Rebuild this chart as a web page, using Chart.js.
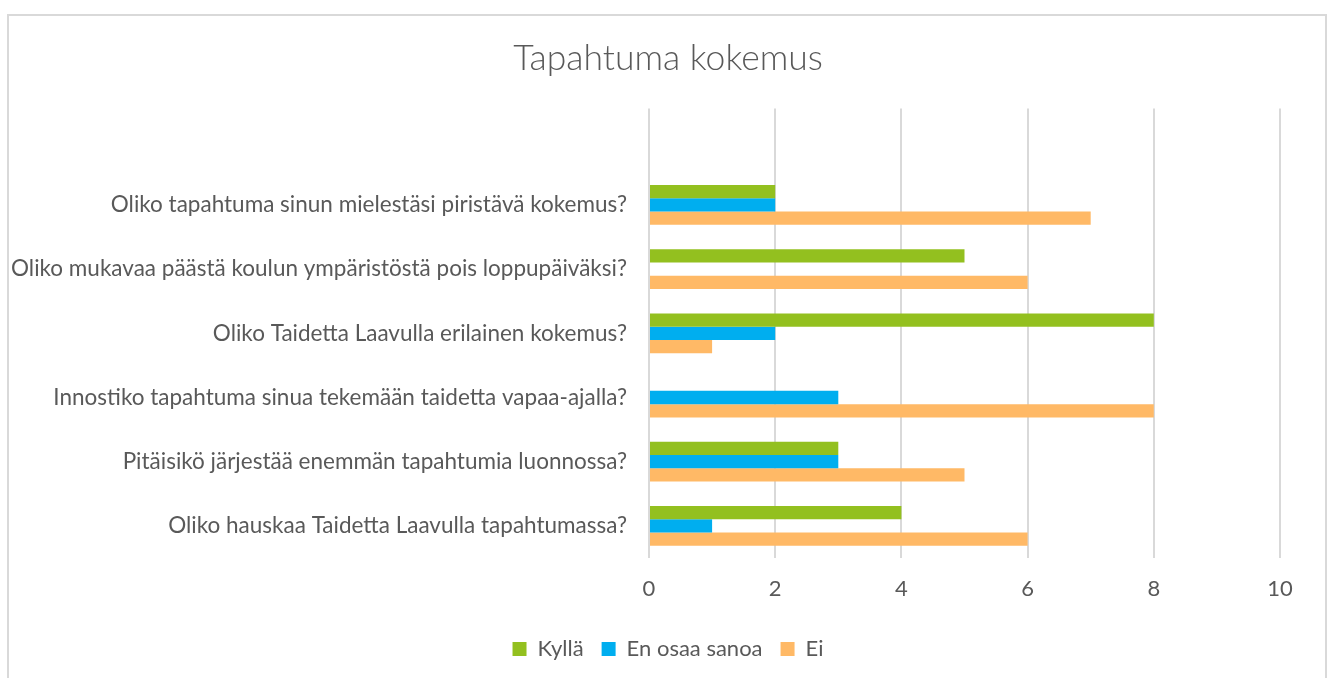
<!DOCTYPE html>
<html>
<head>
<meta charset="utf-8">
<script src="https://cdn.jsdelivr.net/npm/chart.js@4"></script>
<style>
    html, body { margin: 0; padding: 0; background: #fff; }
    #frame {
        position: absolute; left: 7px; top: 14px;
        width: 1320px; height: 700px;
        border: 2px solid #d9d9d9; box-sizing: border-box;
    }
    #wrap { position: absolute; left: 0; top: 0; width: 1334px; height: 678px; }
</style>
</head>
<body>
<div id="frame"></div>
<div id="wrap"><canvas id="chart"></canvas></div>
<script>
// Kysymykset ylhäältä alas (tyhjä rivi ylimpänä kuten kuvassa)
const questions = [
    '',
    'Oliko tapahtuma sinun mielestäsi piristävä kokemus?',
    'Oliko mukavaa päästä koulun ympäristöstä pois loppupäiväksi?',
    'Oliko Taidetta Laavulla erilainen kokemus?',
    'Innostiko tapahtuma sinua tekemään taidetta vapaa-ajalla?',
    'Pitäisikö järjestää enemmän tapahtumia luonnossa?',
    'Oliko hauskaa Taidetta Laavulla tapahtumassa?'
];
const kylla = [null, 2, 5, 8, 0, 3, 4];
const enOsaa = [null, 2, 0, 2, 3, 3, 1];
const ei = [null, 7, 6, 1, 8, 5, 6];
const xTicks = [0, 2, 4, 6, 8, 10];

const textColor = '#595959';
const fontFamily = 'Lato, "Open Sans", sans-serif';

// vasen reunus = oikea, jotta otsikko ja selite keskittyvät kehyksen keskelle
const padLeft = 56;

// y-akselin tekstit saavat käyttää myös vasemman reunuksen (muuten ne leikkautuvat)
const widenYLabels = {
    id: 'widenYLabels',
    afterLayout(chart) {
        chart.scales.y.left = 0;
    }
};

new Chart(document.getElementById('chart'), {
    type: 'bar',
    data: {
        labels: questions,
        datasets: [
            { label: 'Kyllä', data: kylla, backgroundColor: '#93c01f' },
            { label: 'En osaa sanoa', data: enOsaa, backgroundColor: '#00aeef' },
            { label: 'Ei', data: ei, backgroundColor: '#ffb966' }
        ]
    },
    plugins: [widenYLabels],
    options: {
        indexAxis: 'y',
        responsive: true,
        maintainAspectRatio: false,
        animation: false,
        datasets: {
            bar: { barPercentage: 1, categoryPercentage: 0.62 }
        },
        layout: { padding: { left: padLeft, right: 54, top: 0, bottom: 8 } },
        plugins: {
            title: {
                display: true,
                text: 'Tapahtuma kokemus',
                color: textColor,
                font: { family: fontFamily, size: 35.5, weight: '300' },
                padding: { top: 37, bottom: 29 }
            },
            legend: {
                position: 'bottom',
                labels: {
                    color: textColor,
                    font: { family: fontFamily, size: 22 },
                    boxWidth: 14,
                    boxHeight: 14,
                    padding: 18
                }
            },
            tooltip: { enabled: false }
        },
        scales: {
            x: {
                min: 0,
                max: 10,
                afterBuildTicks: (scale) => {
                    scale.ticks = xTicks.map(v => ({ value: v }));
                },
                afterFit: (scale) => { scale.height = 62; },
                grid: { color: '#d9d9d9', lineWidth: 2, drawTicks: false },
                border: { display: false },
                ticks: {
                    color: textColor,
                    font: { family: fontFamily, size: 22 },
                    padding: 18
                }
            },
            y: {
                afterFit: (scale) => { scale.width = 649 - padLeft; },
                grid: { display: false },
                border: { display: false },
                ticks: {
                    color: textColor,
                    font: { family: fontFamily, size: 22.5 },
                    padding: 14,
                    autoSkip: false
                }
            }
        }
    }
});
</script>
</body>
</html>
